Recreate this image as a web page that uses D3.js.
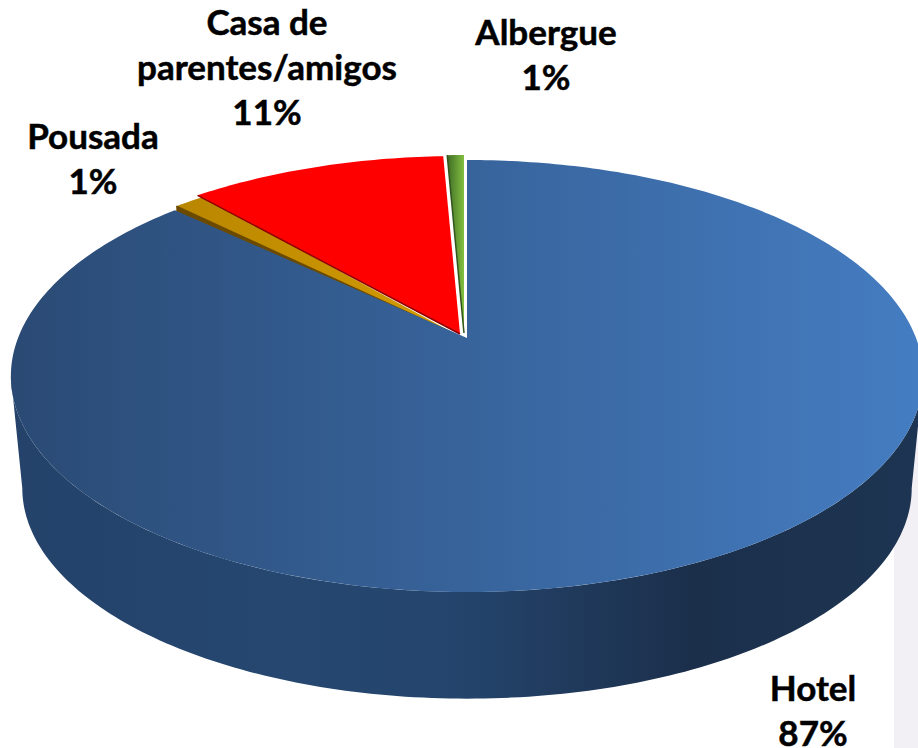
<!DOCTYPE html>
<html>
<head>
<meta charset="utf-8">
<script src="https://cdnjs.cloudflare.com/ajax/libs/d3/7.8.5/d3.min.js"></script>
<style>
	html, body { margin: 0; padding: 0; background: #fff; overflow: hidden; }
	text { font-family: Lato, sans-serif; font-weight: 700; font-size: 35px; fill: #000; stroke: #000; stroke-width: 0.5px; text-anchor: middle; }
</style>
</head>
<body>
<div id="chart"></div>
<script>
var categories = ['Hotel', 'Pousada', 'Casa de parentes/amigos', 'Albergue'];
var shares = [87, 1.3, 11, 0.7];
var percentLabels = ['87%', '1%', '11%', '1%'];
var labelLines = [['Hotel'], ['Pousada'], ['Casa de', 'parentes/amigos'], ['Albergue']];

var topColors = [['#2a4a74', '#457dc2'], ['#b98600', '#d49c00'], ['#ff0000', '#ff0000'], ['#3f6b25', '#82c040']];
var edgeColors = [null, '#6b4a00', '#8c0000', '#33551d'];

var width = 918;
var height = 748;

// exploded slices sit a little away from the hotel slice
var apex = [[467, 338], [461, 337], [460, 334], [464, 333]];
var startTrim = [0, 0.024, 0.012, 0]; // radians cut off the slice start, opens the gap to the hotel
var endExtra = [0, 0.025, 0, 0]; // radians added at the slice end, tucked under the next slice
var wallDrop = [0, 7, 0, 0]; // how much wall shows under the slice start edge
var labelAt = [[813, 701], [93, 149], [267, 35], [546, 45]];

var lineGap = 45;
var persp = 0.176; // perspective squeeze of the disc
var radiusX = 449;
var radiusY = 209.3;
var depthDrop = 113;
var depthScale = 0.975;

var svg = d3.select('#chart').append('svg')
	.attr('width', width)
	.attr('height', height);

var defs = svg.append('defs');

function addGradient(id, stops, x1, x2) {
	var g = defs.append('linearGradient')
		.attr('id', id)
		.attr('gradientUnits', 'userSpaceOnUse')
		.attr('x1', x1).attr('x2', x2)
		.attr('y1', 0).attr('y2', 0);
	stops.forEach(function(s) {
		g.append('stop').attr('offset', s[0]).attr('stop-color', s[1]);
	});
}

// disc angle (0 = back, clockwise) to screen point
function project(angle, centre, scale) {
	var u = Math.sin(angle);
	var v = -Math.cos(angle);
	var d = 1 - persp * v;
	return [
		centre[0] + scale * radiusX * u / d,
		centre[1] + scale * radiusY * v / d
	];
}

function sampleArc(a0, a1, centre, scale) {
	var n = Math.max(2, Math.ceil(Math.abs(a1 - a0) * 60));
	return d3.range(n + 1).map(function(i) {
		return project(a0 + (a1 - a0) * i / n, centre, scale);
	});
}

var line = d3.line();
var slices = d3.pie().sort(null).startAngle(0).endAngle(2 * Math.PI)(shares);

// pale panel behind the lower right of the pie
svg.append('rect')
	.attr('x', 894).attr('y', 380)
	.attr('width', width - 894).attr('height', height - 380)
	.attr('fill', '#f2eff5');

// side wall of the hotel slice, between the widest points of the disc
addGradient('side', [[0, '#24426a'], [0.3, '#254770'], [0.5, '#24446c'], [0.62, '#203a5c'], [0.75, '#1b2f4b'], [1, '#1d3552']], 11, 918);
var wideRight = Math.acos(-persp);
var wideLeft = 2 * Math.PI - wideRight;
var lower = [apex[0][0], apex[0][1] + depthDrop];
svg.append('path')
	.attr('d', line(sampleArc(wideRight, wideLeft, apex[0], 1)
		.concat(sampleArc(wideLeft, wideRight, lower, depthScale))) + 'Z')
	.attr('fill', 'url(#side)');

// small slices first, back to front, the hotel top goes over them
var order = [3, 1, 2, 0];
order.forEach(function(i) {
	var s = slices[i];
	var from = s.startAngle + startTrim[i];
	var rim = sampleArc(from, s.endAngle + endExtra[i], apex[i], 1);
	var xs = rim.map(function(p) { return p[0]; }).concat(apex[i][0]);
	addGradient('top' + i, [[0, topColors[i][0]], [1, topColors[i][1]]], d3.min(xs), d3.max(xs));

	if (wallDrop[i]) {
		var drop = [rim[0][0], rim[0][1] + wallDrop[i]];
		svg.append('path')
			.attr('d', line([apex[i], rim[0], drop]) + 'Z')
			.attr('fill', edgeColors[i]);
	}

	svg.append('path')
		.attr('d', line([apex[i]].concat(rim)) + 'Z')
		.attr('fill', 'url(#top' + i + ')');

	if (edgeColors[i]) {
		svg.append('path')
			.attr('d', line([apex[i], rim[0]]))
			.attr('stroke', edgeColors[i])
			.attr('stroke-width', 1.5)
			.attr('fill', 'none');
	}
});

// labels
categories.forEach(function(name, i) {
	var lines = labelLines[i].concat(percentLabels[i]);
	var label = svg.append('text')
		.attr('class', 'label')
		.attr('transform', 'translate(' + labelAt[i][0] + ',' + labelAt[i][1] + ')');
	lines.forEach(function(t, j) {
		label.append('tspan')
			.attr('x', 0)
			.attr('y', j * lineGap)
			.text(t);
	});
});
</script>
</body>
</html>
